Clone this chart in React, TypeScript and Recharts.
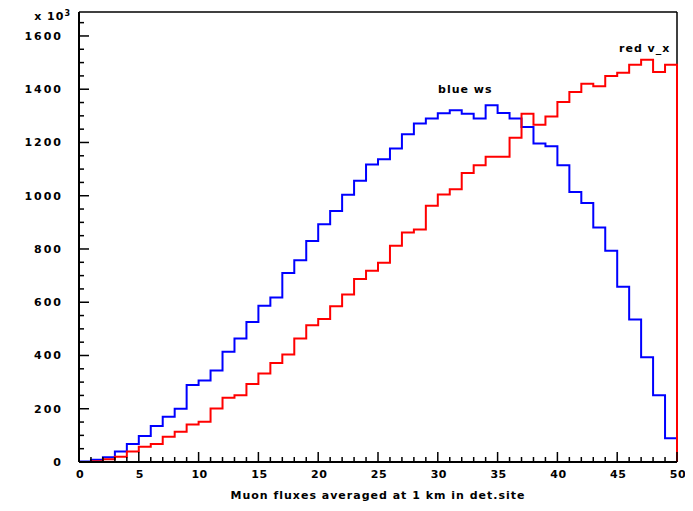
import React from 'react';
import { LineChart, Line, XAxis, YAxis, ReferenceLine, ReferenceDot } from 'recharts';

const binEdges = Array.from({ length: 51 }, (_, i) => i);
const blueValues = [2, 8, 18, 39, 68, 98, 135, 170, 200, 289, 306, 344, 414, 464, 526, 587, 618, 710, 758, 830, 893, 943, 1004, 1056, 1117, 1137, 1177, 1231, 1271, 1290, 1310, 1321, 1308, 1290, 1340, 1311, 1290, 1258, 1196, 1186, 1114, 1014, 973, 881, 793, 658, 535, 393, 251, 89];
const redValues = [0, 3, 10, 20, 39, 57, 68, 95, 114, 141, 151, 201, 241, 251, 293, 332, 372, 404, 464, 514, 537, 585, 629, 687, 718, 748, 812, 862, 873, 962, 1005, 1024, 1085, 1114, 1146, 1146, 1218, 1308, 1267, 1298, 1352, 1390, 1421, 1411, 1450, 1462, 1492, 1511, 1465, 1492];
const xTicks = Array.from({ length: 51 }, (_, i) => i);
const yTicks = Array.from({ length: 34 }, (_, i) => i * 50);
const yMax = 1690;
const xTitle = 'Muon fluxes averaged at 1 km in det.site';
const blueLabel = 'blue ws';
const redLabel = 'red v_x';

const data = binEdges.map((x, i) => ({
  x,
  blue: i < blueValues.length ? blueValues[i] : 0,
  red: i < redValues.length ? redValues[i] : 0,
}));

const FONT = 'DejaVu Sans';

const XTick = (props: any) => {
  const { x, y, payload } = props;
  const v = payload.value;
  const major = v % 5 === 0;
  return (
    <g>
      <line x1={x} x2={x} y1={y} y2={y - (major ? 10 : 5)} stroke="#000" strokeWidth={1.5} />
      {major && (
        <text x={x + 1} y={y + 16} textAnchor="middle" fontFamily={FONT} fontWeight="bold" fontSize={11} fill="#000" letterSpacing={0.5}>
          {v}
        </text>
      )}
    </g>
  );
};

const YTick = (props: any) => {
  const { x, y, payload } = props;
  const v = payload.value;
  const major = v % 200 === 0;
  return (
    <g>
      <line x1={x} x2={x + (major ? 10 : 5)} y1={y} y2={y} stroke="#000" strokeWidth={1.5} />
      {major && (
        <text x={x - 16} y={y + 4} textAnchor="end" fontFamily={FONT} fontWeight="bold" fontSize={11} fill="#000" letterSpacing={2}>
          {v}
        </text>
      )}
    </g>
  );
};

export default function App() {
  return (
    <LineChart width={677} height={495} data={data} margin={{ top: 4, right: 8, left: 0, bottom: 0 }}>
      <XAxis
        dataKey="x"
        type="number"
        domain={[0, 50]}
        ticks={xTicks}
        interval={0}
        tickSize={0}
        tickMargin={0}
        tick={<XTick />}
        height={41}
        axisLine={{ stroke: '#000', strokeWidth: 2 }}
        label={(p: any) => {
          const vb = p.viewBox || {};
          return (
            <text x={(vb.x ?? 71) + (vb.width ?? 598) / 2} y={(vb.y ?? 454) + 37} textAnchor="middle" fontFamily={FONT} fontWeight="bold" fontSize={11} fill="#000" letterSpacing={1}>
              {xTitle}
            </text>
          );
        }}
      />
      <YAxis
        type="number"
        domain={[0, yMax]}
        ticks={yTicks}
        interval={0}
        tickSize={0}
        tickMargin={0}
        tick={<YTick />}
        width={71}
        axisLine={{ stroke: '#000', strokeWidth: 2 }}
        label={(p: any) => {
          const vb = p.viewBox || {};
          const right = (vb.x ?? 0) + (vb.width ?? 71);
          return (
            <text x={right - 8} y={(vb.y ?? 4) + 8} textAnchor="end" fontFamily={FONT} fontWeight="bold" fontSize={11} fill="#000" letterSpacing={1}>
              x 10
              <tspan dy={-4} fontSize={8}>3</tspan>
            </text>
          );
        }}
      />
      <ReferenceLine y={yMax} stroke="#000" strokeWidth={1.5} />
      <ReferenceLine x={50} stroke="#000" strokeWidth={1.5} />
      <Line type="stepAfter" dataKey="blue" stroke="#0000ff" strokeWidth={2} dot={false} isAnimationActive={false} />
      <Line type="stepAfter" dataKey="red" stroke="#ff0000" strokeWidth={2} dot={false} isAnimationActive={false} />
      <ReferenceDot
        x={32.3}
        y={1400}
        r={0}
        label={{ value: blueLabel, position: 'center', fontFamily: FONT, fontWeight: 'bold', fontSize: 11, fill: '#000', letterSpacing: 1 }}
      />
      <ReferenceDot
        x={47.3}
        y={1555}
        r={0}
        label={{ value: redLabel, position: 'center', fontFamily: FONT, fontWeight: 'bold', fontSize: 11, fill: '#000', letterSpacing: 1 }}
      />
    </LineChart>
  );
}
